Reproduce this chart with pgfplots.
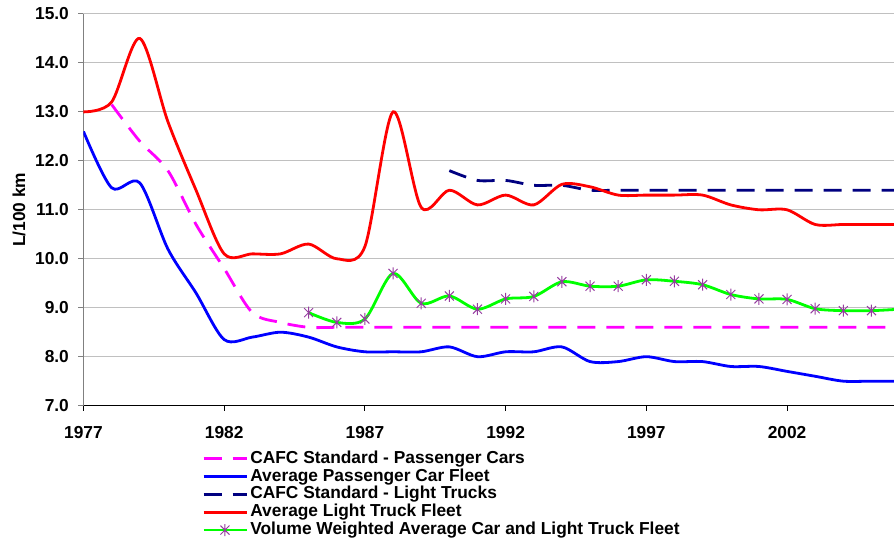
\documentclass[border=0pt]{standalone}
\usepackage{fontspec}
\setmainfont{Liberation Sans}
\usepackage{pgfplots}
\pgfplotsset{compat=1.18}

\definecolor{cafccar}{RGB}{255,0,255}
\definecolor{carfleet}{RGB}{0,0,255}
\definecolor{cafctruck}{RGB}{0,0,128}
\definecolor{truckfleet}{RGB}{255,0,0}
\definecolor{weighted}{RGB}{0,255,0}
\definecolor{starmark}{RGB}{150,60,160}
\definecolor{gridgray}{RGB}{192,192,192}
\definecolor{axisgray}{RGB}{128,128,128}

% Excel style star: an X with a vertical bar
\pgfdeclareplotmark{xstar}{%
  \pgfpathmoveto{\pgfqpoint{0pt}{\pgfplotmarksize}}%
  \pgfpathlineto{\pgfqpoint{0pt}{-\pgfplotmarksize}}%
  \pgfpathmoveto{\pgfqpoint{-0.75\pgfplotmarksize}{-0.75\pgfplotmarksize}}%
  \pgfpathlineto{\pgfqpoint{0.75\pgfplotmarksize}{0.75\pgfplotmarksize}}%
  \pgfpathmoveto{\pgfqpoint{-0.75\pgfplotmarksize}{0.75\pgfplotmarksize}}%
  \pgfpathlineto{\pgfqpoint{0.75\pgfplotmarksize}{-0.75\pgfplotmarksize}}%
  \pgfusepathqstroke}

\newcommand{\chartfont}{\bfseries\fontsize{13pt}{14.5pt}\selectfont}

\begin{document}
\begin{tikzpicture}
\path[use as bounding box] (0pt,0pt) rectangle (670.5pt,405.75pt);
\begin{axis}[
    at={(62.6pt,101.5pt)}, anchor=south west,
    scale only axis,
    width=607.9pt, height=293.8pt,
    xmin=1977, xmax=2005.8,
    ymin=7, ymax=15,
    xtick={1977,1982,1987,1992,1997,2002},
    ytick={7,8,...,15},
    axis x line=bottom, axis y line=left,
    axis line style={-, line width=0.75pt},
    x axis line style={black},
    y axis line style={axisgray},
    tick align=outside,
    major tick length=3.75pt,
    xtick style={black, line width=0.75pt},
    ytick style={axisgray, line width=0.75pt},
    ymajorgrids,
    grid style={gridgray, line width=0.75pt},
    /pgf/number format/assume math mode=true,
    tick label style={font=\chartfont},
    xticklabel style={/pgf/number format/1000 sep={}, inner sep=0pt, yshift=-11.5pt},
    yticklabel style={/pgf/number format/.cd, fixed, fixed zerofill, precision=1,
        /tikz/.cd, inner sep=0pt, xshift=-7pt},
    ylabel={L/100 km},
    ylabel style={font=\chartfont, at={(axis description cs:-0.0796,0.5)}, anchor=center},
    every axis plot/.append style={line width=2.1pt, smooth, tension=0.5},
    legend image code/.code={%
        \draw[mark repeat=2, mark phase=2, #1] plot coordinates {(0pt,0pt) (16pt,0pt) (32pt,0pt)};},
    legend cell align=left,
    legend style={at={(axis description cs:0.1462,-0.1116)}, anchor=north west,
        draw=none, fill=none, inner sep=0pt, row sep=0pt,
        font=\chartfont,
        nodes={inner sep=0pt, text height=10.2pt, text depth=3.2pt},
        /tikz/every odd column/.style={column sep=2pt}},
]
\addplot[cafccar, dash pattern=on 13.5pt off 8.25pt] coordinates {
    (1978,13.15) (1979,12.4) (1980,11.8) (1981,10.7) (1982,9.8) (1983,8.9)
    (1984,8.7) (1985,8.6) (1986,8.6) (1987,8.6) (1988,8.6) (1989,8.6)
    (1990,8.6) (1991,8.6) (1992,8.6) (1993,8.6) (1994,8.6) (1995,8.6)
    (1996,8.6) (1997,8.6) (1998,8.6) (1999,8.6) (2000,8.6) (2001,8.6)
    (2002,8.6) (2003,8.6) (2004,8.6) (2005,8.6) (2006,8.6)};
\addlegendentry{CAFC Standard - Passenger Cars}
\addplot[carfleet] coordinates {
    (1977,12.6) (1978,11.45) (1979,11.55) (1980,10.2) (1981,9.3) (1982,8.35)
    (1983,8.4) (1984,8.5) (1985,8.4) (1986,8.2) (1987,8.1) (1988,8.1)
    (1989,8.1) (1990,8.2) (1991,8.0) (1992,8.1) (1993,8.1) (1994,8.2)
    (1995,7.9) (1996,7.9) (1997,8.0) (1998,7.9) (1999,7.9) (2000,7.8)
    (2001,7.8) (2002,7.7) (2003,7.6) (2004,7.5) (2005,7.5) (2006,7.5)};
\addlegendentry{Average Passenger Car Fleet}
\addplot[cafctruck, dash pattern=on 13.5pt off 8.25pt] coordinates {
    (1990,11.8) (1991,11.6) (1992,11.6) (1993,11.5) (1994,11.5) (1995,11.4)
    (1996,11.4) (1997,11.4) (1998,11.4) (1999,11.4) (2000,11.4) (2001,11.4)
    (2002,11.4) (2003,11.4) (2004,11.4) (2005,11.4) (2006,11.4)};
\addlegendentry{CAFC Standard - Light Trucks}
\addplot[truckfleet] coordinates {
    (1977,13.0) (1978,13.2) (1979,14.5) (1980,12.8) (1981,11.4) (1982,10.1)
    (1983,10.1) (1984,10.1) (1985,10.3) (1986,10.0) (1987,10.25) (1988,13.0)
    (1989,11.05) (1990,11.4) (1991,11.1) (1992,11.3) (1993,11.1) (1994,11.52)
    (1995,11.47) (1996,11.3) (1997,11.3) (1998,11.3) (1999,11.3) (2000,11.1)
    (2001,11.0) (2002,11.0) (2003,10.7) (2004,10.7) (2005,10.7) (2006,10.7)};
\addlegendentry{Average Light Truck Fleet}
\addplot[weighted, mark=xstar, mark size=4.5pt,
    mark options={starmark, line width=0.75pt, solid}] coordinates {
    (1985,8.9) (1986,8.7) (1987,8.77) (1988,9.7) (1989,9.09) (1990,9.24)
    (1991,8.97) (1992,9.18) (1993,9.23) (1994,9.53) (1995,9.44) (1996,9.44)
    (1997,9.57) (1998,9.54) (1999,9.47) (2000,9.27) (2001,9.18) (2002,9.17)
    (2003,8.98) (2004,8.94) (2005,8.94) (2006,8.97)};
\addlegendentry{Volume Weighted Average Car and Light Truck Fleet}
\end{axis}
\end{tikzpicture}
\end{document}
